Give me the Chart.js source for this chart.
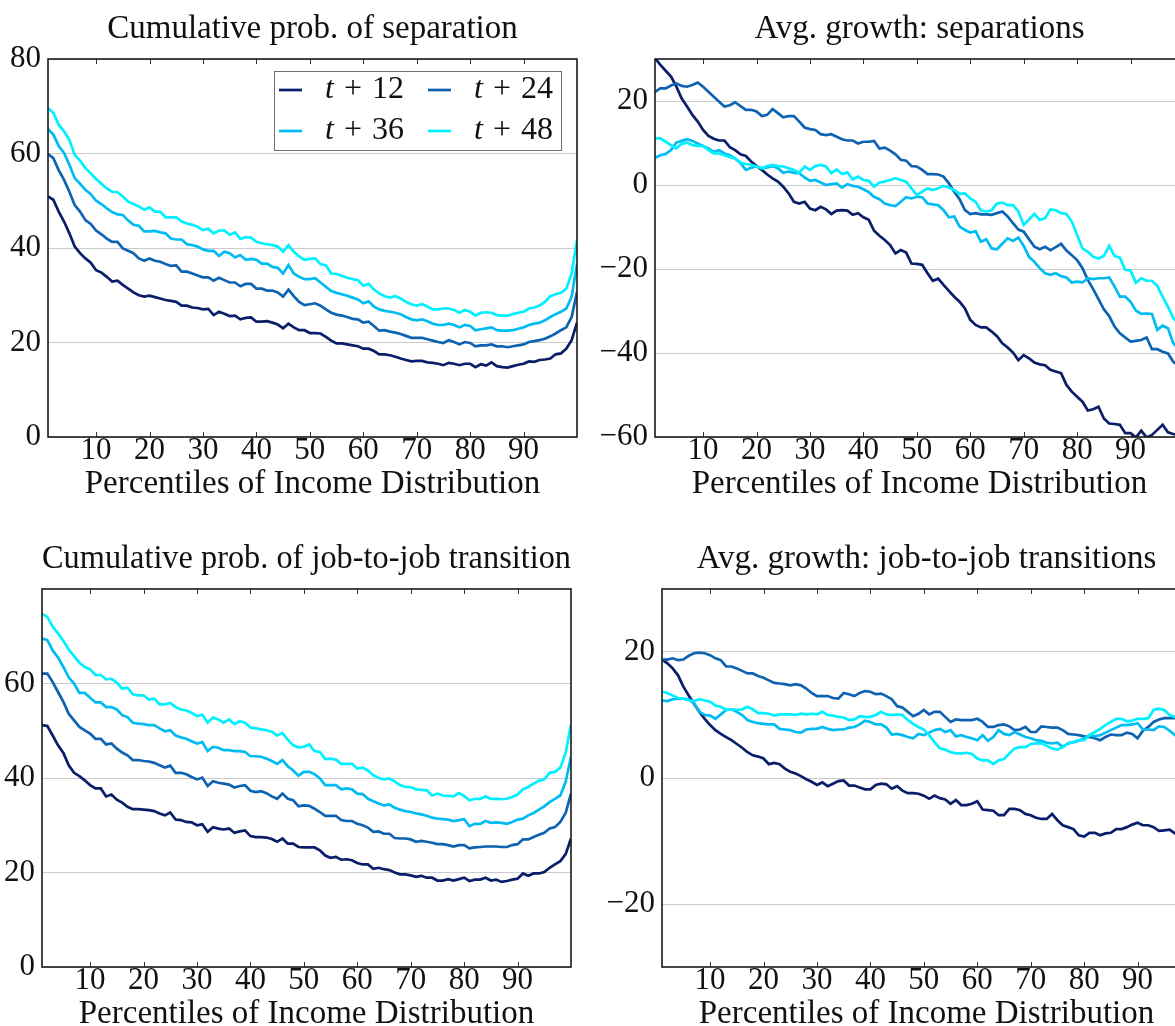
<!DOCTYPE html>
<html>
<head>
<meta charset="utf-8">
<title>Income distribution: separations and job-to-job transitions</title>
<script src="https://cdn.jsdelivr.net/npm/chart.js@4.4.1/dist/chart.umd.min.js"></script>
<style>
  html, body { margin: 0; padding: 0; background: #ffffff; overflow: hidden; width: 1175px; height: 1026px; }
  canvas { position: absolute; }
</style>
</head>
<body>
<canvas id="sepProb" width="600" height="507" style="left:0px;top:0px"></canvas>
<canvas id="sepGrowth" width="600" height="507" style="left:590px;top:0px"></canvas>
<canvas id="j2jProb" width="600" height="507" style="left:0px;top:530px"></canvas>
<canvas id="j2jGrowth" width="600" height="507" style="left:600px;top:530px"></canvas>
<script>
// ---- data -------------------------------------------------------------
const percentiles = [1,2,3,4,5,6,7,8,9,10,11,12,13,14,15,16,17,18,19,20,
  21,22,23,24,25,26,27,28,29,30,31,32,33,34,35,36,37,38,39,40,
  41,42,43,44,45,46,47,48,49,50,51,52,53,54,55,56,57,58,59,60,
  61,62,63,64,65,66,67,68,69,70,71,72,73,74,75,76,77,78,79,80,
  81,82,83,84,85,86,87,88,89,90,91,92,93,94,95,96,97,98,99,100];

const horizons = [12, 24, 36, 48];
const xTicks = [10, 20, 30, 40, 50, 60, 70, 80, 90];
const xLabel = 'Percentiles of Income Distribution';

// Cumulative probability of separation (%)
const sepProb12 = [50.9,50.2,47.7,45.6,43.1,40.3,38.9,37.8,36.9,35.3,
  34.8,33.9,32.9,33.1,32.2,31.4,30.6,30.0,29.7,29.9,
  29.6,29.3,29.0,28.8,28.6,27.8,27.8,27.4,27.3,27.0,
  27.1,25.8,26.5,26.1,25.6,25.7,24.9,25.2,25.3,24.4,
  24.4,24.5,24.2,23.8,23.0,24.0,23.2,22.6,22.6,22.0,
  22.0,21.9,21.2,20.4,19.8,19.8,19.6,19.4,19.2,18.7,
  18.7,18.2,17.5,17.5,17.3,17.0,16.6,16.3,16.0,16.1,
  16.1,15.8,15.7,15.5,15.2,15.7,15.5,15.2,15.5,15.5,
  14.8,15.4,15.1,15.8,15.0,14.8,14.7,15.0,15.3,15.5,
  16.0,15.9,16.3,16.4,16.6,17.5,17.7,18.7,20.5,24.2];
const sepProb24 = [59.9,59.0,56.5,54.4,51.9,49.1,47.7,45.9,45.1,43.7,
  42.9,42.0,41.3,41.3,39.9,39.4,38.9,37.8,37.3,37.8,
  37.3,37.1,36.6,36.2,36.3,35.0,35.0,34.6,34.2,33.8,
  33.8,33.1,33.7,33.2,32.7,32.7,31.9,32.4,32.4,31.4,
  31.4,31.0,31.0,30.6,29.7,31.2,29.8,28.6,27.9,28.1,
  28.3,27.8,27.0,26.3,25.9,25.7,25.4,25.0,24.9,24.2,
  24.4,23.5,22.5,22.6,22.3,22.1,21.8,21.4,21.0,21.0,
  21.0,20.7,20.4,20.1,19.9,20.5,20.1,19.6,20.1,19.9,
  19.2,19.4,19.4,19.6,19.2,19.2,19.0,19.2,19.4,19.6,
  20.1,20.3,20.5,20.8,21.3,21.9,22.6,23.2,25.4,30.7];
const sepProb36 = [65.2,64.0,61.6,60.1,57.6,54.8,53.6,52.3,51.4,50.0,
  49.3,48.4,47.6,47.1,47.0,45.8,44.9,44.7,43.5,43.5,
  43.6,43.3,43.1,42.0,41.8,41.8,40.8,40.6,40.3,39.7,
  39.4,39.4,38.3,39.2,38.9,38.0,38.5,37.5,37.7,37.5,
  36.7,36.7,36.0,35.8,34.6,36.4,34.6,33.9,33.4,33.4,
  33.6,32.7,31.8,30.9,30.5,30.2,29.9,29.5,29.1,28.3,
  28.7,27.6,27.0,26.7,26.5,26.3,26.0,25.4,24.9,24.7,
  24.9,24.5,24.0,23.7,23.7,24.0,23.7,23.2,23.7,23.5,
  22.6,22.8,23.0,23.2,22.6,22.5,22.5,22.6,22.9,23.2,
  23.7,24.0,24.2,24.7,25.4,26.0,26.5,27.2,29.7,36.6];
const sepProb48 = [69.6,68.6,66.1,64.7,62.9,59.7,58.5,56.9,55.8,54.6,
  53.6,52.6,51.9,51.8,50.9,49.8,49.3,48.8,48.1,48.6,
  47.7,47.7,46.5,46.5,46.5,45.6,45.2,44.9,44.5,43.8,
  44.1,43.1,43.7,43.7,42.8,43.3,41.9,42.3,42.2,41.3,
  41.0,40.8,40.6,40.3,39.2,40.6,39.2,38.2,37.5,37.7,
  37.8,36.6,36.3,34.6,34.5,34.1,33.7,33.4,33.2,32.0,
  32.4,31.2,30.4,29.8,29.5,29.8,29.3,28.6,28.1,27.8,
  28.1,27.6,27.0,27.0,27.2,27.2,26.9,26.3,26.9,26.5,
  25.7,26.3,26.4,26.3,25.8,25.7,25.7,26.0,26.3,26.5,
  27.2,27.4,27.8,28.6,29.8,30.2,30.5,31.4,34.6,41.7];

// Average earnings growth after a separation (%)
const sepGrowth12 = [30.2,28.6,27.2,25.8,23.4,20.6,18.7,16.7,15.1,13.1,
  11.7,11.0,10.6,10.6,9.0,8.3,7.3,6.9,5.6,4.5,
  3.6,2.5,1.6,0.8,-0.4,-2.0,-4.0,-4.4,-4.0,-5.6,
  -6.0,-5.2,-5.8,-6.9,-6.1,-6.0,-6.1,-7.1,-6.7,-7.7,
  -8.3,-10.9,-12.1,-13.1,-14.3,-16.3,-15.5,-16.1,-18.7,-18.8,
  -19.0,-21.0,-22.8,-22.3,-23.8,-25.2,-26.6,-27.8,-29.4,-32.1,
  -33.3,-33.9,-33.9,-34.9,-36.0,-37.7,-38.7,-39.9,-41.7,-40.5,
  -41.3,-42.3,-42.7,-42.9,-44.0,-44.4,-44.8,-47.6,-49.2,-50.4,
  -51.6,-53.7,-53.4,-52.8,-55.6,-56.8,-56.9,-57.1,-59.1,-59.1,
  -60.1,-58.5,-60.1,-59.5,-58.3,-57.1,-58.9,-59.3,-59.6,-60.0];
const sepGrowth24 = [22.2,23.0,23.0,23.7,24.2,23.6,23.4,23.8,24.4,23.4,
  22.2,21.0,19.8,18.7,19.0,19.7,18.8,17.9,17.9,17.5,
  16.4,16.7,18.1,17.1,16.1,16.4,16.4,15.1,13.7,13.3,
  13.1,12.1,11.9,12.1,11.5,10.9,10.6,10.6,9.9,10.3,
  10.3,10.5,8.7,8.9,8.2,7.3,6.0,5.8,4.5,4.4,
  3.6,2.6,2.6,2.5,2.0,0.4,-1.6,-3.4,-6.0,-6.9,
  -6.7,-7.0,-7.0,-7.1,-6.7,-6.3,-7.5,-9.1,-10.6,-11.1,
  -12.9,-14.7,-15.3,-14.7,-15.5,-14.8,-14.0,-15.6,-16.7,-17.9,
  -19.8,-22.6,-24.8,-27.2,-29.6,-31.2,-33.7,-35.3,-36.3,-37.3,
  -37.1,-36.9,-36.3,-39.1,-39.1,-39.7,-40.1,-42.1,-43.0,-44.0];
const sepGrowth36 = [6.5,7.1,7.4,8.3,10.1,10.5,10.9,10.5,9.9,9.3,
  8.7,7.9,8.3,7.5,7.1,6.3,5.2,3.6,4.1,4.4,
  4.0,4.2,4.5,4.0,2.9,3.2,2.9,2.8,1.8,1.0,
  1.2,0.6,0.0,0.2,0.4,-0.6,0.2,-0.2,-0.4,-1.0,
  -1.7,-2.8,-3.4,-4.4,-4.8,-5.0,-4.0,-2.9,-3.2,-2.8,
  -2.9,-4.4,-4.6,-4.8,-6.0,-7.7,-7.5,-9.9,-10.7,-11.3,
  -11.0,-13.5,-12.9,-15.1,-15.3,-14.0,-12.7,-13.3,-12.5,-14.5,
  -17.1,-18.3,-19.8,-21.0,-21.4,-21.0,-21.7,-22.0,-23.2,-23.0,
  -23.2,-22.2,-22.4,-22.2,-22.2,-22.0,-24.2,-26.6,-26.6,-27.8,
  -29.9,-30.7,-30.6,-30.7,-34.5,-33.5,-34.1,-37.7,-39.0,-40.0];
const sepGrowth48 = [11.1,11.1,10.3,9.5,8.7,9.8,10.1,9.5,9.3,9.3,
  8.3,7.5,7.5,7.1,6.7,6.3,5.3,5.0,4.8,4.4,
  4.0,4.5,4.8,4.5,4.4,4.0,3.6,2.9,4.4,3.6,
  4.5,4.8,4.4,2.8,3.7,2.6,3.0,1.3,2.0,1.2,
  1.0,-0.4,0.6,0.8,1.2,1.6,1.2,0.8,-0.8,-2.4,
  -1.6,-0.8,-1.2,-0.8,-0.2,-0.6,-1.2,-2.1,-2.0,-3.2,
  -4.0,-6.1,-6.3,-6.0,-4.4,-4.2,-4.8,-4.8,-6.3,-9.5,
  -8.2,-6.9,-8.3,-7.9,-5.8,-6.0,-6.7,-6.9,-8.7,-11.9,
  -15.1,-15.9,-17.1,-17.5,-16.9,-14.5,-16.9,-17.3,-20.2,-20.4,
  -23.3,-22.2,-22.8,-22.8,-24.0,-26.6,-29.0,-31.7,-33.0,-34.0];

// Cumulative probability of a job-to-job transition (%)
const j2jProb12 = [51.2,51.0,49.0,46.9,45.3,42.7,41.1,40.4,39.5,38.5,
  37.8,37.8,36.1,36.5,35.4,34.8,33.9,33.4,33.4,33.3,
  33.2,33.0,32.5,32.1,32.7,31.2,31.1,30.7,30.6,30.0,
  30.2,28.6,29.6,29.3,29.1,29.3,28.4,28.7,28.9,27.7,
  27.5,27.5,27.4,27.1,26.5,27.2,26.1,26.1,25.4,25.3,
  25.3,25.3,24.7,23.6,23.1,23.3,22.7,22.8,22.6,22.0,
  21.7,21.7,20.8,21.0,20.7,20.5,20.0,19.6,19.6,19.4,
  19.1,19.3,18.9,18.9,18.3,18.3,18.6,18.3,18.6,18.9,
  18.2,18.5,18.5,18.9,18.3,18.5,18.0,18.2,18.5,18.7,
  19.8,19.3,19.8,19.8,20.1,21.0,21.7,22.4,23.9,27.2];
const j2jProb24 = [62.1,62.1,60.3,58.2,56.1,53.6,52.2,50.8,50.1,49.4,
  48.3,48.3,47.1,47.3,46.2,45.4,44.8,43.8,43.8,43.6,
  43.5,43.2,42.7,42.2,42.6,41.1,41.1,40.8,40.2,39.7,
  40.1,38.3,39.3,39.0,38.8,38.6,38.0,38.3,38.5,37.3,
  37.0,37.2,36.8,36.1,35.6,36.7,35.6,35.3,34.0,34.2,
  34.1,33.5,32.8,32.0,32.0,32.0,31.1,30.9,30.9,30.3,
  30.0,29.5,28.6,28.7,28.2,28.2,27.3,27.2,27.2,27.0,
  26.5,26.7,26.5,26.3,26.0,26.0,25.8,25.5,25.8,25.8,
  25.1,25.3,25.4,25.5,25.5,25.5,25.4,25.4,25.8,26.0,
  27.0,27.0,27.5,28.0,28.4,29.3,29.6,30.7,32.6,36.7];
const j2jProb36 = [69.5,69.2,67.0,65.5,63.5,61.3,60.0,58.0,58.0,57.0,
  56.0,56.0,55.0,55.0,54.5,53.3,52.9,51.7,51.5,51.4,
  51.2,51.2,50.5,49.9,50.1,49.0,48.6,48.3,47.8,47.3,
  47.6,45.7,46.6,46.4,45.9,45.9,45.7,45.7,45.5,44.6,
  44.6,44.5,44.1,43.6,43.0,43.8,42.5,41.6,40.5,41.3,
  41.3,40.8,39.9,38.5,38.5,38.5,37.6,37.8,37.6,36.7,
  36.6,35.6,35.1,34.6,34.2,34.4,33.7,33.3,33.0,32.8,
  32.5,32.3,32.0,31.6,31.4,31.3,31.2,30.9,31.1,31.3,
  29.8,30.3,30.3,30.9,30.5,30.6,30.5,30.3,30.7,31.2,
  31.4,32.1,32.6,33.3,34.0,34.9,35.6,36.3,39.2,44.5];
const j2jProb48 = [74.7,74.1,72.0,70.6,69.0,67.2,65.8,64.4,63.5,63.0,
  61.8,61.8,60.9,61.0,60.2,58.9,59.1,57.7,57.5,57.5,
  56.6,56.8,55.6,55.6,55.9,55.0,54.5,54.3,53.8,53.1,
  53.4,51.7,52.8,52.4,51.7,52.4,51.4,52.0,51.7,50.7,
  50.5,50.3,50.1,49.8,49.0,49.5,48.1,46.9,46.5,46.6,
  47.1,45.7,45.5,44.0,44.1,43.9,43.0,43.0,43.0,42.0,
  42.2,41.6,40.6,40.0,39.7,39.9,39.3,38.5,38.1,38.1,
  37.6,37.5,37.4,36.3,36.7,36.3,36.2,36.1,36.8,36.2,
  35.3,35.6,35.6,36.1,35.6,35.6,35.5,35.6,36.0,36.5,
  37.6,38.1,38.8,39.4,39.7,41.1,41.3,42.2,45.3,51.4];

// Average earnings growth after a job-to-job transition (%)
const j2jGrowth12 = [18.8,18.2,17.4,16.3,14.5,13.1,11.8,10.5,9.4,8.4,
  7.6,7.0,6.5,6.0,5.4,4.8,4.1,3.6,3.4,3.1,
  2.2,2.4,2.2,1.5,1.0,0.7,0.3,-0.2,-0.6,-1.1,
  -0.7,-1.3,-0.9,-0.5,-0.4,-1.2,-1.2,-1.5,-1.8,-1.8,
  -1.1,-0.9,-1.0,-1.7,-1.3,-2.0,-2.4,-2.4,-2.5,-2.8,
  -3.3,-2.8,-3.2,-3.4,-4.1,-3.5,-4.3,-4.3,-4.1,-3.7,
  -5.0,-5.1,-5.2,-5.9,-5.9,-4.9,-4.9,-5.1,-5.7,-5.9,
  -6.3,-6.5,-6.5,-5.7,-6.7,-7.5,-7.8,-8.1,-9.1,-9.3,
  -8.7,-8.7,-9.1,-8.8,-8.7,-8.1,-8.1,-7.8,-7.4,-7.1,
  -7.5,-7.5,-7.8,-8.4,-8.3,-8.2,-8.8,-9.0,-9.1,-9.2];
const j2jGrowth24 = [18.8,18.8,19.0,18.7,18.8,19.4,19.8,19.9,19.8,19.5,
  19.0,18.7,17.7,17.7,17.4,17.0,16.6,16.6,16.2,15.9,
  15.5,15.1,15.0,14.9,14.7,14.9,14.7,14.2,13.5,13.0,
  13.0,13.0,12.7,12.6,13.5,13.3,13.0,13.5,13.8,13.7,
  13.3,13.4,13.0,12.5,11.4,11.2,10.5,9.8,10.2,10.8,
  10.1,10.5,10.5,9.7,8.9,9.3,9.2,9.2,9.2,9.4,
  8.9,8.1,8.1,8.4,8.5,8.2,7.6,7.7,8.1,7.3,
  7.3,8.2,8.1,8.0,8.0,7.6,7.0,6.9,6.8,6.6,
  6.5,6.3,6.0,6.5,6.9,6.8,6.8,7.2,7.0,6.3,
  7.5,8.1,8.9,9.3,9.5,9.5,9.5,9.4,9.3,9.2];
const j2jGrowth36 = [12.3,12.2,12.5,12.6,12.6,12.5,11.8,10.5,10.0,9.9,
  9.4,10.1,10.8,10.9,10.5,10.0,9.2,8.9,8.7,8.6,
  8.5,8.5,7.8,7.7,7.6,7.3,7.2,7.7,7.8,7.8,
  8.1,7.8,7.6,7.7,7.7,8.0,8.1,8.5,9.1,8.9,
  8.5,8.5,8.0,6.9,7.0,6.8,6.5,6.3,7.0,6.8,
  7.2,7.6,7.8,7.3,7.6,6.6,6.8,6.5,6.3,6.0,
  6.8,5.9,6.5,7.6,7.0,6.8,7.3,6.9,6.5,6.3,
  6.0,5.9,5.6,5.5,5.6,4.9,5.5,5.7,5.9,6.3,
  6.8,6.6,6.8,7.2,7.6,8.0,8.4,8.4,8.5,8.7,
  7.7,7.7,7.6,8.2,8.1,7.5,6.8,6.5,6.3,6.0];
const j2jGrowth48 = [13.7,13.5,13.1,12.7,12.6,12.3,12.2,12.5,12.3,12.1,
  11.5,11.3,10.8,10.9,10.8,10.9,11.3,10.9,10.3,10.3,
  10.2,9.9,10.1,10.1,10.1,10.0,10.2,10.1,10.2,10.1,
  10.5,10.0,9.9,9.7,9.6,9.2,9.3,9.8,9.7,9.7,
  10.0,10.5,10.1,10.0,10.1,10.0,9.2,8.6,8.1,7.7,
  6.8,5.7,4.7,4.5,4.1,3.9,3.9,4.0,3.8,3.1,
  2.8,2.8,2.2,2.8,3.0,3.9,4.7,4.9,4.9,5.4,
  5.5,5.5,5.1,4.7,4.5,4.9,5.5,5.7,6.0,6.0,
  6.8,7.3,7.8,8.4,8.9,9.4,9.4,9.0,9.1,9.4,
  9.4,9.5,10.8,11.0,10.8,10.0,9.7,9.5,9.3,9.0];

const yTicksSepProb = [0, 20, 40, 60, 80];
const yTicksSepGrowth = [-60, -40, -20, 0, 20];
const yTicksJ2jProb = [0, 20, 40, 60];
const yTicksJ2jGrowth = [-20, 0, 20];

// ---- styling ----------------------------------------------------------
const FONT = "'Liberation Serif', 'Times New Roman', serif";
const TEXT = '#111111';
const seriesColors = ['#0a1d68', '#0d62b2', '#00bcf2', '#00f0ff'];
Chart.defaults.font.family = FONT;
Chart.defaults.color = TEXT;

// Axis frame plus short inward tick marks on the top and bottom edges.
const plotFrame = {
  id: 'plotFrame',
  afterDatasetsDraw(chart) {
    const { ctx, chartArea: a } = chart;
    const x = chart.scales.x;
    ctx.save();
    ctx.strokeStyle = '#333333';
    ctx.lineWidth = 1;
    ctx.beginPath();
    x.ticks.forEach(t => {
      const px = Math.round(x.getPixelForValue(t.value)) + 0.5;
      ctx.moveTo(px, a.bottom);
      ctx.lineTo(px, a.bottom - 5);
      ctx.moveTo(px, a.top);
      ctx.lineTo(px, a.top + 5);
    });
    ctx.stroke();
    ctx.strokeStyle = '#1a1a1a';
    ctx.lineWidth = 1.6;
    ctx.strokeRect(a.left, a.top, a.right - a.left, a.bottom - a.top);
    ctx.restore();
  }
};

// Boxed two-column key with an italic "t".
const seriesKey = {
  id: 'seriesKey',
  afterDraw(chart, args, opts) {
    if (!opts.display) return;
    const { ctx, chartArea: a } = chart;
    const w = 287, h = 79;
    const x0 = a.right - 16 - w, y0 = a.top + 12;
    ctx.save();
    ctx.fillStyle = '#ffffff';
    ctx.fillRect(x0, y0, w, h);
    ctx.strokeStyle = '#6e6e6e';
    ctx.lineWidth = 1;
    ctx.strokeRect(x0 + 0.5, y0 + 0.5, w, h);
    chart.data.datasets.forEach((ds, i) => {
      const col = i % 2, row = Math.floor(i / 2);
      const sx = x0 + 5 + col * 149;
      const cy = y0 + 19 + row * 41;
      ctx.strokeStyle = ds.borderColor;
      ctx.lineWidth = 2.7;
      ctx.beginPath();
      ctx.moveTo(sx, cy);
      ctx.lineTo(sx + 23, cy);
      ctx.stroke();
      ctx.fillStyle = TEXT;
      ctx.textBaseline = 'middle';
      ctx.textAlign = 'left';
      let tx = sx + 46;
      ctx.font = 'italic 32px ' + FONT;
      ctx.fillText('t', tx, cy);
      tx += ctx.measureText('t').width + 10;
      ctx.font = '32px ' + FONT;
      ctx.fillText('+', tx, cy);
      tx += ctx.measureText('+').width + 10;
      ctx.fillText(String(horizons[i]), tx, cy);
    });
    ctx.restore();
  }
};

const fmtTick = v => (v < 0 ? '\u2212' + Math.abs(v) : String(v));

function buildPanel(canvasId, cfg) {
  return new Chart(document.getElementById(canvasId), {
    type: 'line',
    data: {
      datasets: cfg.series.map((vals, i) => ({
        label: 't + ' + horizons[i],
        data: percentiles.map((p, k) => ({ x: p, y: vals[k] })),
        borderColor: seriesColors[i],
        borderWidth: 2.7,
        pointRadius: 0,
        tension: 0,
        fill: false,
        clip: 0,
        order: cfg.series.length - i
      }))
    },
    options: {
      responsive: false,
      animation: false,
      events: [],
      devicePixelRatio: 1,
      layout: { padding: { left: 0, top: 0, right: cfg.padRight, bottom: 0 } },
      plugins: {
        legend: { display: false },
        tooltip: { enabled: false },
        title: {
          display: true,
          text: cfg.title,
          fullSize: false,
          color: TEXT,
          font: { size: 33, weight: 'normal', lineHeight: 1.2 },
          padding: { top: 9.2, bottom: 10.2 }
        },
        seriesKey: { display: !!cfg.key }
      },
      scales: {
        x: {
          type: 'linear',
          min: 1,
          max: 100,
          afterBuildTicks: ax => { ax.ticks = xTicks.map(v => ({ value: v })); },
          afterFit: ax => { ax.height = 70; },
          grid: { display: false, drawTicks: false },
          border: { display: false },
          ticks: { font: { size: 31, lineHeight: 0.8 }, padding: 1, color: TEXT, maxRotation: 0, autoSkip: false },
          title: {
            display: true,
            text: xLabel,
            color: TEXT,
            font: { size: 33, lineHeight: 1.2 },
            padding: { top: 0, bottom: 2.5 }
          }
        },
        y: {
          type: 'linear',
          min: cfg.yMin,
          max: cfg.yMax,
          afterBuildTicks: ax => { ax.ticks = cfg.yTicks.map(v => ({ value: v })); },
          afterFit: ax => { ax.width = cfg.yWidth; },
          grid: { color: '#cbcbcb', lineWidth: 1, drawTicks: false },
          border: { display: false },
          ticks: { font: { size: 31 }, padding: 7, color: TEXT, callback: fmtTick }
        }
      }
    },
    plugins: [plotFrame, seriesKey]
  });
}

buildPanel('sepProb', {
  title: 'Cumulative prob. of separation',
  series: [sepProb12, sepProb24, sepProb36, sepProb48],
  yMin: 0, yMax: 80, yTicks: yTicksSepProb, yWidth: 48, padRight: 23, key: true
});
buildPanel('sepGrowth', {
  title: 'Avg. growth: separations',
  series: [sepGrowth12, sepGrowth24, sepGrowth36, sepGrowth48],
  yMin: -60, yMax: 30, yTicks: yTicksSepGrowth, yWidth: 65, padRight: 6
});
buildPanel('j2jProb', {
  title: 'Cumulative prob. of job-to-job transition',
  series: [j2jProb12, j2jProb24, j2jProb36, j2jProb48],
  yMin: 0, yMax: 80, yTicks: yTicksJ2jProb, yWidth: 42, padRight: 29
});
buildPanel('j2jGrowth', {
  title: 'Avg. growth: job-to-job transitions',
  series: [j2jGrowth12, j2jGrowth24, j2jGrowth36, j2jGrowth48],
  yMin: -30, yMax: 30, yTicks: yTicksJ2jGrowth, yWidth: 62, padRight: 9
});
</script>
</body>
</html>
